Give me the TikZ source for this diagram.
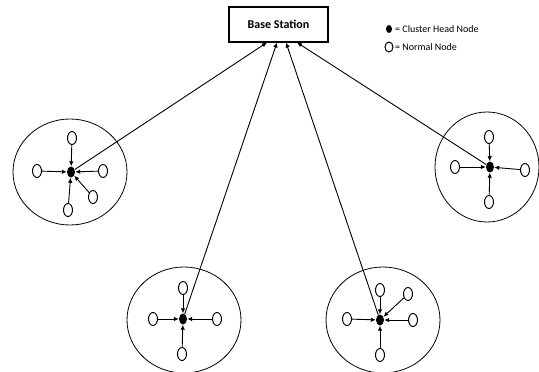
\documentclass[tikz,border=0pt]{standalone}
\usepackage{fontspec}
\setmainfont{Carlito}
\usetikzlibrary{arrows.meta,shapes.geometric}
\begin{document}
\begin{tikzpicture}[x=1pt,y=-1pt,
  nn/.style={draw, ellipse, minimum width=9pt, minimum height=13pt, inner sep=0pt, line width=1pt},
  ch/.style={fill, ellipse, minimum width=8pt, minimum height=11pt, inner sep=0pt},
  cl/.style={draw, ellipse, minimum width=114pt, minimum height=106pt, line width=0.8pt},
  ar/.style={-{Latex[length=5pt,width=4.5pt]}, line width=0.9pt},
  lg/.style={anchor=west, inner sep=0pt, font=\fontsize{10}{11}\selectfont}]
\useasboundingbox (0,0) rectangle (539,372);
% base station
\node[draw, line width=1.1pt, minimum width=99pt, minimum height=35pt, font=\bfseries\fontsize{12}{13}\selectfont] (bs) at (278.5,24.5) {Base Station};
\coordinate (t1) at (267,42.5);
\coordinate (t2) at (277,42.5);
\coordinate (t3) at (286,42.5);
\coordinate (t4) at (297,42.5);
% legend
\node[ch, minimum width=6pt, minimum height=8pt] (lch) at (389,29) {};
\node[lg] (lcht) at (395,29) {= Cluster Head Node};
\node[nn, minimum width=8pt, minimum height=10pt] (lnn) at (389,47) {};
\node[lg] (lnnt) at (395,47) {= Normal Node};
% cluster A (left)
\node[cl] (ca) at (70,172) {};
\node[ch] (ha) at (71,172) {};
\node[nn] (a1) at (72,138) {};
\node[nn] (a2) at (37,171) {};
\node[nn] (a3) at (103,171) {};
\node[nn] (a4) at (68,210) {};
\node[nn] (a5) at (93,197) {};
\foreach \n in {a1,a2,a3,a4,a5} \draw[ar] (\n) -- (ha);
\draw[ar] (ha) -- (t1);
% cluster B (right)
\node[cl, minimum width=104pt, minimum height=110pt] (cb) at (487,167) {};
\node[ch] (hb) at (490,167) {};
\node[nn] (b1) at (489,137) {};
\node[nn] (b2) at (455,167) {};
\node[nn] (b3) at (525,170) {};
\node[nn] (b4) at (489,202) {};
\foreach \n in {b1,b2,b3,b4} \draw[ar] (\n) -- (hb);
\draw[ar] (hb) -- (t4);
% cluster C (bottom left)
\node[cl] (cc) at (184,320) {};
\node[ch] (hc) at (183,319) {};
\node[nn] (c1) at (183,288) {};
\node[nn] (c2) at (153,319) {};
\node[nn] (c3) at (217,319) {};
\node[nn] (c4) at (182,354) {};
\foreach \n in {c1,c2,c3,c4} \draw[ar] (\n) -- (hc);
\draw[ar] (hc) -- (t2);
% cluster D (bottom right)
\node[cl] (cd) at (383,320) {};
\node[ch] (hd) at (380,320) {};
\node[nn] (d1) at (380,290) {};
\node[nn] (d2) at (408,294) {};
\node[nn] (d3) at (347,319) {};
\node[nn] (d4) at (413,320) {};
\node[nn] (d5) at (380,355) {};
\foreach \n in {d1,d2,d3,d4,d5} \draw[ar] (\n) -- (hd);
\draw[ar] (hd) -- (t3);
\end{tikzpicture}
\end{document}
